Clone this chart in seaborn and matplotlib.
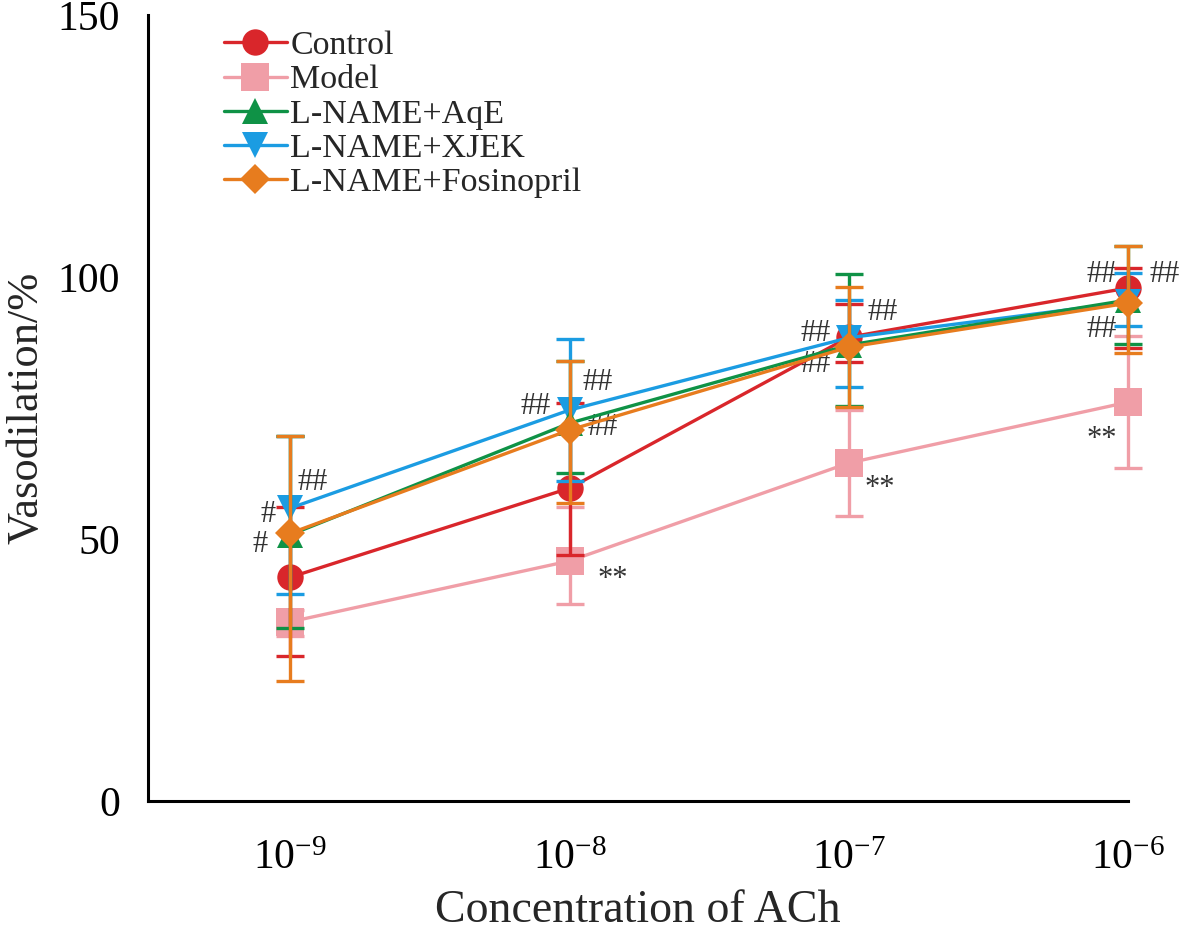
#!/usr/bin/env python3
"""ACh 浓度-血管舒张曲线（各组均值 ± 误差）。"""

import matplotlib

matplotlib.use("Agg")
import matplotlib.pyplot as plt
from matplotlib.lines import Line2D
import numpy as np
import pandas as pd
import seaborn as sns

# 数据
conc_labels = [r"$\mathregular{10^{-9}}$", r"$\mathregular{10^{-8}}$",
               r"$\mathregular{10^{-7}}$", r"$\mathregular{10^{-6}}$"]
groups = ["Control", "Model", "L-NAME+AqE", "L-NAME+XJEK", "L-NAME+Fosinopril"]

control_mean = [42.7, 59.7, 88.5, 97.9]
control_lo = [27.7, 46.9, 83.8, 86.5]
control_hi = [56.1, 76.0, 94.8, 101.7]

model_mean = [34.2, 45.8, 64.5, 76.1]
model_lo = [31.5, 37.6, 54.4, 63.5]
model_hi = [36.5, 56.1, 74.6, 88.7]

aqe_mean = [50.8, 72.1, 87.0, 95.6]
aqe_lo = [33.0, 62.6, 75.4, 87.2]
aqe_hi = [69.7, 84.0, 100.6, 105.9]

xjek_mean = [55.9, 74.6, 88.4, 95.2]
xjek_lo = [39.5, 61.0, 79.0, 90.6]
xjek_hi = [69.7, 88.2, 95.6, 100.8]

fos_mean = [51.1, 70.8, 86.6, 95.0]
fos_lo = [22.9, 56.9, 75.2, 85.5]
fos_hi = [69.7, 84.0, 98.1, 105.9]

# 显著性标记 (x, y, 文本)
marks = [
    (0.08, 60.7, "##"), (-0.08, 54.6, "#"), (-0.11, 48.9, "#"),
    (0.88, 75.2, "##"), (1.10, 79.8, "##"), (1.12, 71.2, "##"), (1.155, 42.2, "**"),
    (1.88, 89.3, "##"), (2.12, 93.3, "##"), (1.88, 83.2, "##"), (2.11, 59.7, "**"),
    (2.906, 100.4, "##"), (3.13, 100.4, "##"), (2.906, 89.9, "##"), (2.906, 68.9, "**"),
]

colors = {
    "Control": "#d9262b",
    "Model": "#f09ea7",
    "L-NAME+AqE": "#0f9246",
    "L-NAME+XJEK": "#1b9ce2",
    "L-NAME+Fosinopril": "#e77c1e",
}
markers = {
    "Control": "o",
    "Model": "s",
    "L-NAME+AqE": "^",
    "L-NAME+XJEK": "v",
    "L-NAME+Fosinopril": "D",
}
msizes = {"Control": 19, "Model": 20, "L-NAME+AqE": 19, "L-NAME+XJEK": 19, "L-NAME+Fosinopril": 15}

series = {
    "Control": (control_mean, control_lo, control_hi),
    "Model": (model_mean, model_lo, model_hi),
    "L-NAME+AqE": (aqe_mean, aqe_lo, aqe_hi),
    "L-NAME+XJEK": (xjek_mean, xjek_lo, xjek_hi),
    "L-NAME+Fosinopril": (fos_mean, fos_lo, fos_hi),
}

sns.set_theme(style="white")
plt.rcParams["font.family"] = ["Liberation Serif", "DejaVu Serif"]
plt.rcParams["mathtext.fontset"] = "custom"
plt.rcParams["mathtext.rm"] = "Liberation Serif"

fig = plt.figure(figsize=(11.81, 9.33), dpi=100)
ax = fig.add_axes([0.1253, 0.1415, 0.8298, 0.8425])

xpos = np.arange(len(conc_labels))
draw_order = ["Model", "Control", "L-NAME+XJEK", "L-NAME+AqE", "L-NAME+Fosinopril"]
for z, g in enumerate(draw_order):
    mean, lo, hi = series[g]
    df = pd.DataFrame({"x": xpos, "y": mean})
    sns.lineplot(data=df, x="x", y="y", ax=ax, color=colors[g], marker=markers[g],
                 markersize=msizes[g], markeredgewidth=0, linewidth=2.4,
                 legend=False, zorder=3 + z, clip_on=False)
    err = [np.array(mean) - np.array(lo), np.array(hi) - np.array(mean)]
    eb = ax.errorbar(xpos, mean, yerr=err, fmt="none", ecolor=colors[g],
                     elinewidth=2.4, capsize=10, capthick=2.4, zorder=3 + z)
    for art in eb.lines[1] + eb.lines[2]:
        art.set_clip_on(False)

for x, y, t in marks:
    ax.text(x, y, t, ha="center", va="center", fontsize=22, color="#333333")

ax.set_xlim(-0.51, 3.0)
ax.set_ylim(0, 150)
ax.set_xticks(xpos)
ax.set_xticklabels(conc_labels)
ax.set_yticks([0, 50, 100, 150])
ax.tick_params(axis="both", direction="in", length=9, width=2.2, labelsize=30,
               colors="black")
ax.tick_params(axis="y", pad=20)
ax.tick_params(axis="x", pad=28)
for side in ["top", "right"]:
    ax.spines[side].set_visible(False)
for side in ["left", "bottom"]:
    ax.spines[side].set_linewidth(2.2)
    ax.spines[side].set_color("black")
ax.set_xlabel("Concentration of ACh", fontsize=33, labelpad=8)
ax.set_ylabel("Vasodilation/%", fontsize=32, labelpad=8)

handles = [Line2D([], [], color=colors[g], marker=markers[g], markersize=msizes[g],
                  markeredgewidth=0, linewidth=2.4) for g in groups]
ax.legend(handles, groups, loc="upper left", bbox_to_anchor=(0.060, 1.002),
          frameon=False, fontsize=24.5, borderpad=0, labelspacing=0.1,
          handlelength=1.85, handletextpad=0.1)

fig.savefig("out.png", dpi=100)
